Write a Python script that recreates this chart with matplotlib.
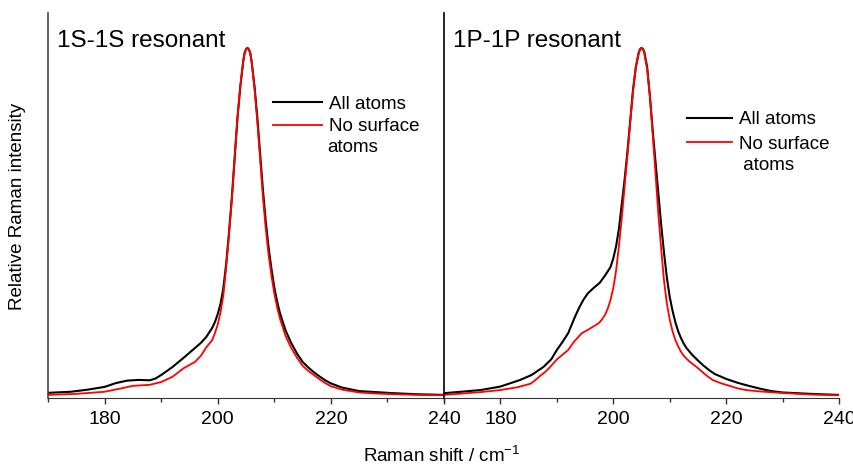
import matplotlib
matplotlib.use('Agg')
import matplotlib.pyplot as plt
from matplotlib.ticker import FixedLocator

plt.rcParams['font.family'] = ['Liberation Sans', 'DejaVu Sans']
plt.rcParams['mathtext.fontset'] = 'custom'
plt.rcParams['mathtext.rm'] = 'Liberation Sans'

# ---- data (normalised intensity, peak = 1) ----
# 1S-1S resonant
s_all_x = [170, 174, 177, 180, 182, 184, 186, 188, 189, 190, 192, 194, 196, 197, 198,
           199, 199.5, 200, 200.5, 201, 201.5, 202, 202.5, 203, 203.5, 204, 204.5,
           204.75, 205, 205.25, 205.5, 205.75, 206, 206.5, 207, 207.5, 208, 208.5,
           209, 209.5, 210, 210.5, 211, 212, 213, 214, 215, 216, 217, 218, 219, 220,
           222, 225, 228, 231, 235, 240]
s_all_y = [0.009, 0.012, 0.018, 0.026, 0.037, 0.044, 0.046, 0.045, 0.050, 0.060, 0.083,
           0.110, 0.138, 0.152, 0.170, 0.195, 0.212, 0.235, 0.265, 0.310, 0.380, 0.470,
           0.570, 0.685, 0.800, 0.890, 0.960, 0.985, 0.996, 1.000, 0.996, 0.985, 0.960,
           0.890, 0.800, 0.695, 0.590, 0.500, 0.425, 0.365, 0.312, 0.272, 0.238, 0.188,
           0.152, 0.122, 0.098, 0.082, 0.068, 0.056, 0.045, 0.036, 0.024, 0.014, 0.011,
           0.008, 0.005, 0.003]
s_nosurf_x = [170, 175, 180, 183, 185, 188, 190, 192, 194, 196, 197, 198, 199, 199.5,
              200, 200.5, 201, 201.5, 202, 202.5, 203, 203.5, 204, 204.5, 204.75, 205,
              205.25, 205.5, 205.75, 206, 206.5, 207, 207.5, 208, 208.5, 209, 209.5,
              210, 210.5, 211, 212, 213, 214, 215, 216, 217, 218, 219, 220, 222, 225,
              228, 231, 235, 240]
s_nosurf_y = [0.003, 0.006, 0.012, 0.022, 0.029, 0.032, 0.040, 0.055, 0.080, 0.098,
              0.115, 0.140, 0.160, 0.180, 0.205, 0.240, 0.290, 0.370, 0.465, 0.565,
              0.685, 0.800, 0.890, 0.960, 0.985, 0.996, 1.000, 0.996, 0.985, 0.960,
              0.885, 0.790, 0.680, 0.570, 0.480, 0.405, 0.345, 0.295, 0.255, 0.222,
              0.172, 0.138, 0.110, 0.087, 0.072, 0.060, 0.048, 0.037, 0.028, 0.018,
              0.010, 0.007, 0.005, 0.003, 0.002]

# 1P-1P resonant
p_all_x = [170, 173, 176.5, 180, 183.5, 185.5, 187.6, 189, 190, 191, 192, 193.2, 194,
           194.7, 195.5, 196.5, 197.6, 198.5, 199.5, 200, 200.5, 201, 201.5, 202, 202.5,
           203, 203.5, 204, 204.5, 204.75, 205, 205.25, 205.5, 206, 206.5, 207, 207.5,
           208, 208.5, 209, 209.5, 210, 210.5, 211, 211.5, 212, 212.5, 213, 214, 215,
           216, 217, 218, 220, 222, 224, 226, 228, 230, 235, 240]
p_all_y = [0.008, 0.012, 0.017, 0.027, 0.046, 0.060, 0.083, 0.105, 0.132, 0.155, 0.180,
           0.227, 0.255, 0.276, 0.295, 0.310, 0.325, 0.345, 0.370, 0.395, 0.430, 0.480,
           0.550, 0.620, 0.700, 0.790, 0.880, 0.945, 0.985, 0.996, 1.000, 0.997, 0.988,
           0.945, 0.860, 0.760, 0.670, 0.580, 0.490, 0.410, 0.340, 0.285, 0.245, 0.212,
           0.186, 0.166, 0.150, 0.137, 0.118, 0.102, 0.087, 0.074, 0.063, 0.049, 0.038,
           0.029, 0.021, 0.014, 0.010, 0.006, 0.003]
p_nosurf_x = [170, 176.5, 180, 183, 185.3, 186, 187, 188, 188.8, 190, 192, 193, 194.4,
              195.5, 196.5, 197.5, 198, 198.5, 199, 199.5, 200, 200.5, 201, 201.5, 202,
              202.5, 203, 203.5, 204, 204.5, 204.75, 205, 205.25, 205.5, 206, 206.5,
              207, 207.5, 208, 208.5, 209, 209.5, 210, 210.5, 211, 211.5, 212, 212.5,
              213.5, 214.7, 215.5, 216.5, 217.6, 219, 220, 222, 223.5, 226, 229.4, 235,
              240]
p_nosurf_y = [0.003, 0.011, 0.017, 0.025, 0.035, 0.043, 0.057, 0.070, 0.083, 0.105,
              0.132, 0.155, 0.180, 0.190, 0.200, 0.210, 0.220, 0.232, 0.250, 0.275,
              0.310, 0.360, 0.430, 0.510, 0.600, 0.690, 0.785, 0.875, 0.945, 0.985,
              0.996, 1.000, 0.996, 0.985, 0.940, 0.860, 0.750, 0.635, 0.520, 0.420,
              0.330, 0.265, 0.220, 0.186, 0.161, 0.142, 0.127, 0.115, 0.099, 0.084,
              0.073, 0.059, 0.046, 0.037, 0.032, 0.022, 0.017, 0.013, 0.009, 0.004,
              0.002]

titles = ['1S-1S resonant', '1P-1P resonant']
label_all = 'All atoms'
label_nosurf = 'No surface'
label_cont = ['atoms', ' atoms']
major_ticks = [180, 200, 220, 240]
minor_ticks = [170, 190, 210, 230]

fig = plt.figure(figsize=(8.54, 4.65), dpi=100)
ax1 = fig.add_axes([0.0562, 0.144, 0.4637, 0.828])
ax2 = fig.add_axes([0.5199, 0.144, 0.4625, 0.828])

data = [(s_all_x, s_all_y, s_nosurf_x, s_nosurf_y),
        (p_all_x, p_all_y, p_nosurf_x, p_nosurf_y)]
legend_pos = [(0.568, 0.785), (0.615, 0.745)]
cont_pos = [(0.705, 0.652), (0.745, 0.605)]
handle_len = [2.6, 2.4]
spacing = [0.28, 0.38]

for i, ax in enumerate([ax1, ax2]):
    ax_x, ay, bx, by = data[i]
    ax.plot(ax_x, ay, '-', color='black', lw=1.5, label=label_all)
    ax.plot(bx, by, '-', color='#ff0000', lw=1.3, label=label_nosurf)
    ax.set_xlim(170, 240)
    ax.set_ylim(-0.006, 1.10)
    ax.xaxis.set_major_locator(FixedLocator(major_ticks))
    ax.xaxis.set_minor_locator(FixedLocator(minor_ticks))
    ax.set_yticks([])
    ax.tick_params(axis='x', which='major', direction='out', length=4.5,
                   width=1.0, labelsize=14, pad=5, color='#333333')
    ax.tick_params(axis='x', which='minor', direction='out', length=3,
                   width=1.0, color='#333333')
    for s in ['top', 'right']:
        ax.spines[s].set_visible(False)
    ax.spines['bottom'].set_color('#333333')
    ax.spines['left'].set_color('#444444' if i == 0 else 'black')
    ax.spines['left'].set_linewidth(1.2)
    ax.text(0.022, 0.955, titles[i], transform=ax.transAxes, fontsize=17.5,
            ha='left', va='top')
    ax.legend(loc='upper left', bbox_to_anchor=legend_pos[i], frameon=False,
              fontsize=13.5, handlelength=handle_len[i], handletextpad=0.4,
              borderpad=0, borderaxespad=0, labelspacing=spacing[i])
    ax.text(cont_pos[i][0], cont_pos[i][1], label_cont[i], transform=ax.transAxes,
            fontsize=13.5, ha='left', va='center')

fig.text(0.02, 0.555, 'Relative Raman intensity', rotation=90, fontsize=13.5,
         ha='center', va='center')
fig.text(0.517, 0.02, 'Raman shift / cm$^{-1}$', fontsize=13.5,
         ha='center', va='center')

plt.savefig('out.png', dpi=100)
